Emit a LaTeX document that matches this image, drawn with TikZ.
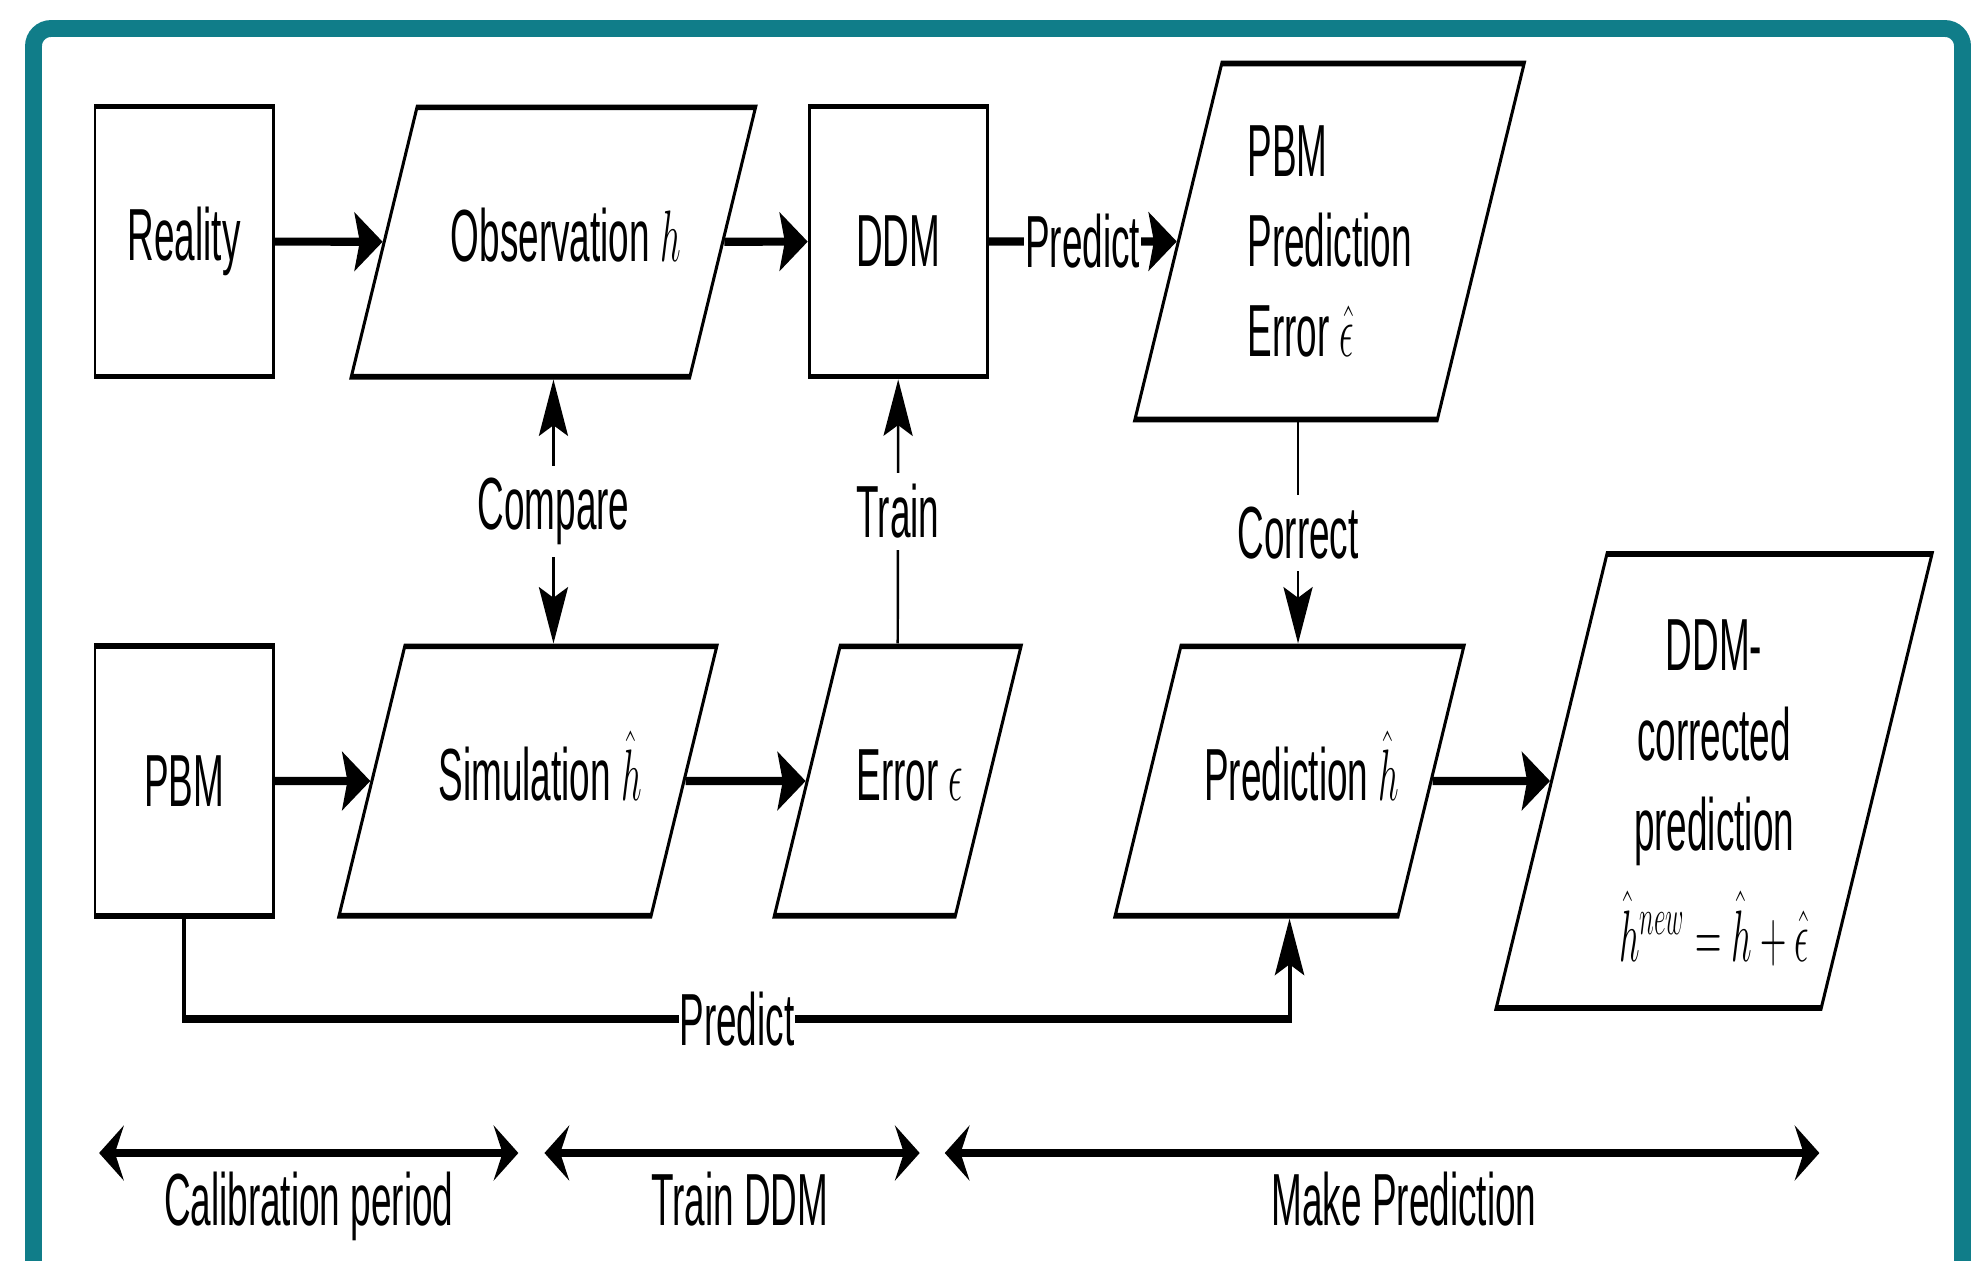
\documentclass[tikz,border=0pt]{standalone}
\usepackage{fontspec}
\setmainfont{Liberation Sans}
\usetikzlibrary{shapes.geometric,arrows.meta,positioning}
\definecolor{frameteal}{RGB}{16,125,137}

\begin{document}
\begin{tikzpicture}[x=0.01cm, y=-0.01cm,
  font=\fontsize{21}{25.6}\selectfont,
  >={Stealth[length=16pt, width=16.5pt, inset=3pt]},
  procbox/.style={draw, line width=1.6pt, minimum width=3.56cm, minimum height=2.7cm},
  iobox/.style={draw, line width=1.6pt, trapezium, trapezium left angle=64,
    trapezium right angle=116, trapezium stretches body=true, inner xsep=2pt},
  oneline/.style={text height=15pt, text depth=4pt, inner ysep=28.8pt, inner xsep=-5pt,
    execute at begin node={\hspace*{14pt}}},
  flow/.style={line width=2.3pt, ->},
  link/.style={line width=1.4pt},
  lbl/.style={fill=white, inner xsep=0.5pt},
  period/.style={line width=2.3pt,
    {Stealth[length=14pt, width=15.5pt, inset=5pt]}-{Stealth[length=14pt, width=15.5pt, inset=5pt]}}]
  \path[use as bounding box, clip] (0,0) rectangle (1982,1260);
  \draw[line width=4.8pt, frameteal, rounded corners=5pt] (33.5,28.5) rectangle (1962.5,1330);
  \begin{scope}[transform canvas={xscale=0.5}, x=0.02cm]
  \node[procbox] (reality) at (184,241.5) {Reality};
  \node[iobox, oneline, minimum width=8.08cm] (obs) at (553,242) {Observation $h$};
  \node[procbox] (ddm) at (897.5,241.5) {DDM};
  \node[iobox, inner ysep=17.7pt, minimum width=7.78cm, align=left] (perr) at (1328.5,241.5)
    {PBM\\Prediction\\Error $\hat{\epsilon}$};
  \node[procbox] (pbm) at (184,781) {PBM};
  \node[iobox, oneline, minimum width=7.55cm] (sim) at (527.5,781) {Simulation $\hat{h}$};
  \node[iobox, oneline, minimum width=4.93cm] (err) at (897,781) {Error $\epsilon$};
  \node[iobox, oneline, minimum width=6.97cm] (pred) at (1288.5,781) {Prediction $\hat{h}$};
  \node[iobox, inner ysep=12pt, minimum width=8.71cm, align=center] (corr) at (1712.75,781)
    {\rule{0pt}{21pt}DDM-\\corrected\\prediction\\[6pt]$\hat{h}^{new}=\hat{h}+\hat{\epsilon}$};

  \draw[flow] (reality) -- (obs);
  \draw[flow] (obs) -- (ddm);
  \draw[flow] (ddm) -- node[lbl] {Predict} (perr);
  \draw[flow] (pbm) -- (sim);
  \draw[flow] (sim) -- (err);
  \draw[flow] (pred) -- (corr);
  \draw[link, <->] (obs.south) -- node[fill=white] {Compare} (obs.south |- sim.north);
  \draw[link, ->] (err.north) -- node[fill=white] {Train} (ddm.south);
  \draw[link, ->] ([xshift=0.17cm]pred.north |- perr.south) -- node[fill=white] {Correct}
    ([xshift=0.17cm]pred.north);
  \draw[flow] (pbm.south) -- ++(0,100) -| node[lbl, pos=0.25] {Predict} (pred.south);

  \coordinate (calA) at (99,1153);
  \coordinate (calB) at (518,1153);
  \coordinate (trA) at (544,1153);
  \coordinate (trB) at (919,1153);
  \coordinate (mkA) at (944,1153);
  \coordinate (mkB) at (1818,1153);
  \draw[period] (calA) -- node[below=1pt] {Calibration period} (calB);
  \draw[period] (trA) -- node[below=1pt, pos=0.52] {Train DDM} (trB);
  \draw[period] (mkA) -- node[below=1pt, pos=0.525] {Make Prediction} (mkB);
  \end{scope}
\end{tikzpicture}
\end{document}
